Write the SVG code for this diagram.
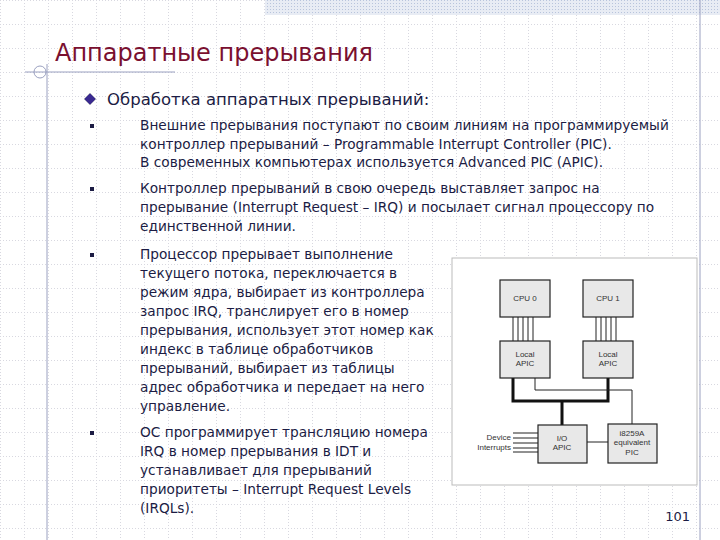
<svg xmlns="http://www.w3.org/2000/svg" width="720" height="540" viewBox="0 0 720 540">
<defs>
<pattern id="grid" width="24" height="24" patternUnits="userSpaceOnUse"><path d="M0 0.5H24M0.5 0V24" stroke="#d8d8e0" stroke-width="1" stroke-dasharray="1,2" fill="none"/></pattern>
<pattern id="hatch" width="3" height="3" patternUnits="userSpaceOnUse"><rect width="3" height="3" fill="#e8ecf4"/><rect width="1" height="1" fill="#b8c4dc"/></pattern>
</defs>
<style>
.t{font-family:"DejaVu Sans",Verdana,sans-serif;fill:#1c1c44;font-size:13.7px}
.b{fill:#e8e8e8;stroke:#222;stroke-width:1.2}
.bt{font-family:"Liberation Sans",Arial,sans-serif;font-size:8px;fill:#333;text-anchor:middle}
.ln{stroke:#222;stroke-width:1;fill:none}
.th{stroke:#111;stroke-width:3;fill:none}
</style>
<rect width="720" height="540" fill="#fff"/>
<rect width="720" height="540" fill="url(#grid)"/>
<rect x="265" y="0" width="455" height="15" fill="url(#hatch)"/>
<line x1="700" y1="0" x2="700" y2="540" stroke="#9aa0c0"/>
<line x1="25" y1="72" x2="175" y2="72" stroke="#9aa0c0"/>
<line x1="47" y1="64" x2="47" y2="540" stroke="#9aa0c0"/>
<circle cx="40" cy="72" r="6" fill="none" stroke="#9aa0c0"/>
<text x="55" y="61" style="font-family:'DejaVu Sans',sans-serif;font-size:24px;fill:#7a1030">Аппаратные прерывания</text>
<path d="M90 93l6 6-6 6-6-6z" fill="#3a2a90" stroke="#aab" stroke-width="1"/>
<text x="107" y="105" class="t" style="font-size:16.5px">Обработка аппаратных прерываний:</text>
<g fill="#1c1c44"><rect x="90" y="124" width="4" height="4"/><rect x="90" y="187" width="4" height="4"/><rect x="90" y="253" width="4" height="4"/><rect x="90" y="431" width="4" height="4"/></g>
<g class="t">
<text x="140" y="130">Внешние прерывания поступают по своим линиям на программируемый</text>
<text x="140" y="149">контроллер прерываний – Programmable Interrupt Controller (PIC).</text>
<text x="140" y="167">В современных компьютерах используется Advanced PIC (APIC).</text>
<text x="140" y="193">Контроллер прерываний в свою очередь выставляет запрос на</text>
<text x="140" y="212">прерывание (Interrupt Request – IRQ) и посылает сигнал процессору по</text>
<text x="140" y="231">единственной линии.</text>
<text x="140" y="259">Процессор прерывает выполнение</text>
<text x="140" y="278">текущего потока, переключается в</text>
<text x="140" y="297">режим ядра, выбирает из контроллера</text>
<text x="140" y="316">запрос IRQ, транслирует его в номер</text>
<text x="140" y="335">прерывания, использует этот номер как</text>
<text x="140" y="354">индекс в таблице обработчиков</text>
<text x="140" y="373">прерываний, выбирает из таблицы</text>
<text x="140" y="392">адрес обработчика и передает на него</text>
<text x="140" y="411">управление.</text>
<text x="140" y="437">ОС программирует трансляцию номера</text>
<text x="140" y="456">IRQ в номер прерывания в IDT и</text>
<text x="140" y="475">устанавливает для прерываний</text>
<text x="140" y="494">приоритеты – Interrupt Request Levels</text>
<text x="140" y="513">(IRQLs).</text>
</g>
<text x="690" y="521" class="t" style="text-anchor:end;font-size:13px">101</text>
<rect x="452" y="258" width="245" height="227" fill="#fff" stroke="#bbb"/>
<g id="connectors">
<path class="ln" d="M513 317V341M518 317V341M523 317V341M528 317V341M533 317V341"/>
<path class="ln" d="M596 317V341M601 317V341M606 317V341M611 317V341M616 317V341"/>
<path class="th" d="M513 378V401H608V378M562 401V425"/>
<path class="ln" d="M535 378V390H632V424M587 442H608"/>
<path class="ln" d="M513 433H538M513 438H538M513 443H538M513 448H538M513 452H538"/>
</g>
<g id="cpu0"><rect class="b" x="500" y="280" width="50" height="37"/><text class="bt" x="525" y="301">CPU 0</text></g>
<g id="cpu1"><rect class="b" x="583" y="280" width="50" height="37"/><text class="bt" x="608" y="301">CPU 1</text></g>
<g id="lapic0"><rect class="b" x="500" y="341" width="50" height="37"/><text class="bt" x="525" y="357">Local</text><text class="bt" x="525" y="366">APIC</text></g>
<g id="lapic1"><rect class="b" x="583" y="341" width="50" height="37"/><text class="bt" x="608" y="357">Local</text><text class="bt" x="608" y="366">APIC</text></g>
<g id="ioapic"><rect class="b" x="538" y="425" width="49" height="38"/><text class="bt" x="562" y="441">I/O</text><text class="bt" x="562" y="450">APIC</text></g>
<g id="pic"><rect class="b" x="608" y="424" width="49" height="39"/><text class="bt" x="632" y="436">i8259A</text><text class="bt" x="632" y="445">equivalent</text><text class="bt" x="632" y="455">PIC</text></g>
<g id="dev"><text class="bt" x="511" y="440" style="text-anchor:end">Device</text><text class="bt" x="511" y="450" style="text-anchor:end">Interrupts</text></g>
</svg>
